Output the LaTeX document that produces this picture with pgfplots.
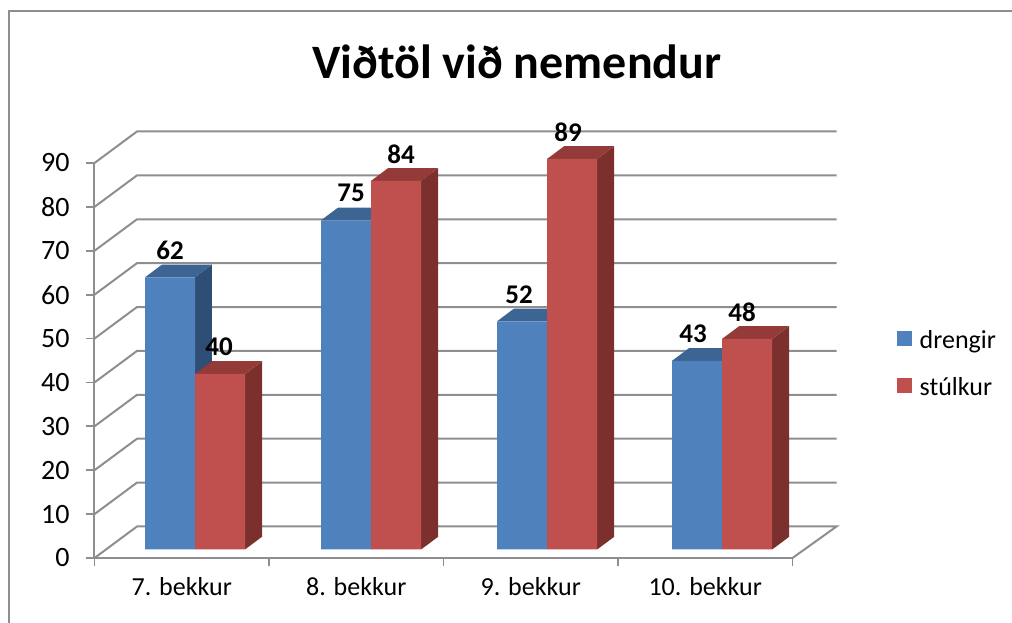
\documentclass[border=0pt]{standalone}
\usepackage{fontspec}
\setmainfont{Carlito}
\usepackage{pgfplots}
\usepackage{pgfplotstable}
\pgfplotsset{compat=1.18}

\definecolor{gridgray}{HTML}{8E8E8E}
\definecolor{blueF}{HTML}{4F81BD}
\definecolor{blueT}{HTML}{3D6593}
\definecolor{blueS}{HTML}{2F4E75}
\definecolor{redF}{HTML}{C0504D}
\definecolor{redT}{HTML}{943A38}
\definecolor{redS}{HTML}{7C302E}

% x is the join of the two bars in each group; da, db nudge the value labels (pt)
\pgfplotstableread{
x     drengir stulkur da db
0.576 62 40 0 -1
1.585 75 84 5 5
2.594 52 89 -3 -4
3.597 43 48 -4 -5
}\nemendur

% back wall line for one y tick
\newcommand{\wall}[1]{%
  \pgfmathsetmacro\yb{#1+7.18}%
  \addplot[gridgray, line width=2pt, forget plot] coordinates {(0,#1) (0.2436,\yb) (4.2522,\yb)};
}
% side and top of a bar: left x, value, side colour, top colour
\newcommand{\faces}[4]{%
  \pgfmathsetmacro\xa{#1+0.2865}%
  \pgfmathsetmacro\xc{#1+0.0974}%
  \pgfmathsetmacro\xd{#1+0.2865+0.0974}%
  \pgfmathsetmacro\yt{#2+1.94}%
  \pgfmathsetmacro\yu{#2+1.94+2.89}%
  \addplot[fill=#3, draw=none, forget plot] coordinates {(\xa,1.94) (\xd,4.83) (\xd,\yu) (\xa,\yt)} -- cycle;
  \addplot[fill=#4, draw=none, forget plot] coordinates {(#1,\yt) (\xa,\yt) (\xd,\yu) (\xc,\yu)} -- cycle;
}

\pgfplotsset{
  barlabels/.style 2 args={
    nodes near coords,
    visualization depends on={\thisrow{#2} \as \nudge},
    every node near coord/.style={font=\fontsize{27}{30}\selectfont\bfseries, text=black, anchor=center,
      yshift=27pt, xshift=#1+\nudge*1pt},
  },
}

\begin{document}
\begin{tikzpicture}[x=1pt,y=1pt]
  \useasboundingbox (-94.5pt,-65pt) rectangle (917.5pt,558pt);
  \draw[gridgray, line width=1.6pt] (-85.5pt,-65pt) -- (-85.5pt,547pt) -- (917.5pt,547pt);
  \begin{axis}[
    at={(0pt,0pt)}, anchor=origin,
    scale only axis,
    width=698pt, height=395pt,
    xmin=0, xmax=4, ymin=0, ymax=90,
    clip=false,
    axis lines=left,
    axis line style={-, gridgray, line width=2pt},
    xtick={0,1,2,3,4},
    xticklabels={7. bekkur,8. bekkur,9. bekkur,10. bekkur},
    x tick label as interval,
    ytick={0,10,...,90},
    tick align=outside,
    major tick length=8.5pt,
    tick style={gridgray, line width=1.8pt},
    tick label style={font=\fontsize{26}{30}\selectfont, text=black},
    /pgf/number format/assume math mode=true,
    xticklabel style={yshift=-7pt},
    yticklabel style={xshift=-13pt, font=\fontsize{28}{30}\selectfont},
    title={\fontsize{48}{54}\selectfont\bfseries Viðtöl við nemendur},
    title style={at={(0.605,1.240)}, anchor=center},
    legend style={at={(802pt,229.5pt)}, anchor=north west, draw=none, fill=none,
      font=\fontsize{26}{30}\selectfont, /tikz/row sep=23pt, inner sep=0pt},
    legend cell align=left,
  ]
    \wall{10}\wall{20}\wall{30}\wall{40}\wall{50}\wall{60}\wall{70}\wall{80}\wall{90}
    \addplot[gridgray, line width=2pt, forget plot] coordinates {(0,0) (0.2436,7.18) (4.2522,7.18) (4,0)};

    \faces{0.289}{62}{blueS}{blueT}
    \faces{1.298}{75}{blueS}{blueT}
    \faces{2.307}{52}{blueS}{blueT}
    \faces{3.310}{43}{blueS}{blueT}
    \addplot[ybar, barlabels={-25pt}{da}, bar width=50pt, bar shift=-25pt, yshift=8.5pt, fill=blueF, draw=none,
      legend image code/.code={\fill[blueF] (0pt,-14.5pt) rectangle (15pt,0.5pt); \path (21pt,0pt);}]
      table[x=x, y=drengir] {\nemendur};
    \addlegendentry{drengir}

    \faces{0.576}{40}{redS}{redT}
    \faces{1.585}{84}{redS}{redT}
    \faces{2.594}{89}{redS}{redT}
    \faces{3.597}{48}{redS}{redT}
    \addplot[ybar, barlabels={25pt}{db}, bar width=50pt, bar shift=25pt, yshift=8.5pt, fill=redF, draw=none,
      legend image code/.code={\fill[redF] (0pt,-14.5pt) rectangle (15pt,0.5pt); \path (21pt,0pt);}]
      table[x=x, y=stulkur] {\nemendur};
    \addlegendentry{stúlkur}
  \end{axis}
\end{tikzpicture}
\end{document}
